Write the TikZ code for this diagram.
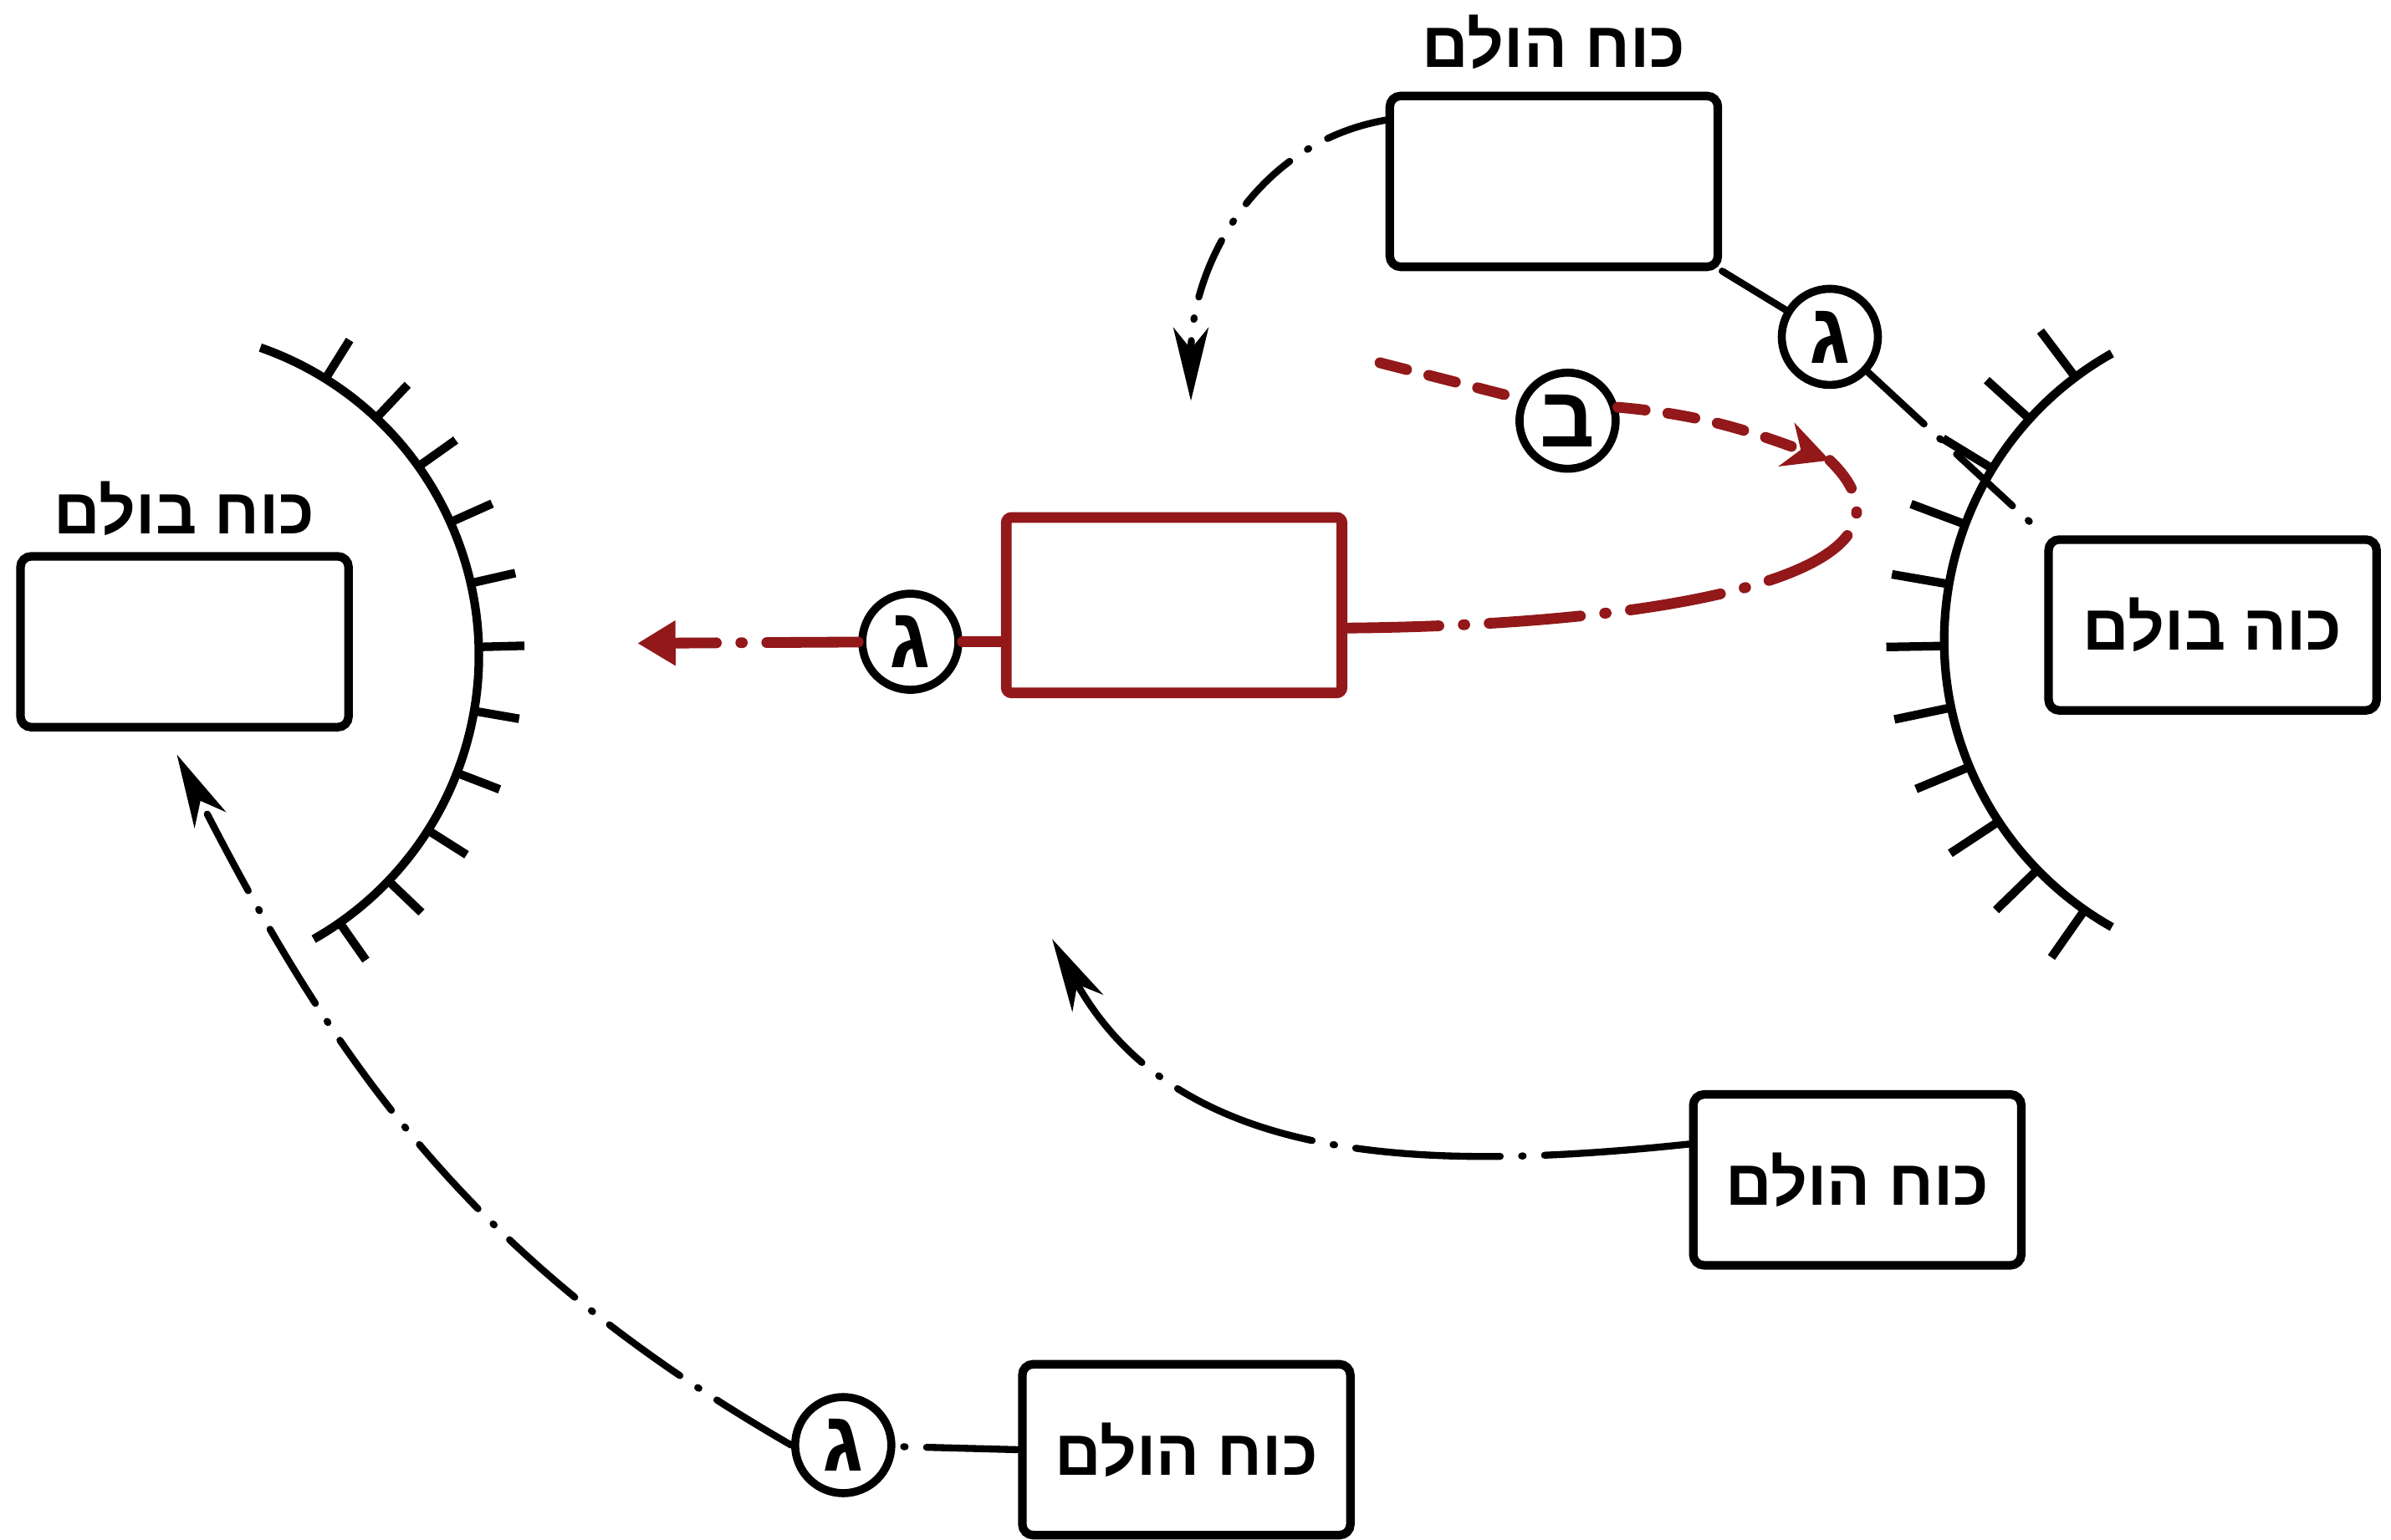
\documentclass[tikz,border=0pt]{standalone}
\usepackage{fontspec}
\usepackage{tikz}
\usetikzlibrary{arrows.meta, positioning}
\usepackage{xcolor}
\newfontfamily\hebfont[Script=Hebrew]{Liberation Sans}
\TeXXeTstate=1
\newcommand{\heb}[1]{\beginR #1\endR}
\definecolor{brakeRed}{RGB}{146,24,26}
\tikzset{
    font=\hebfont\bfseries,
    >=Stealth,
    % Colors
    inkBlack/.style={draw=black},
    inkRed/.style={draw=brakeRed},
    % Shapes
    forcebox/.style={rectangle, line width=1.6pt, rounded corners=2pt,
                     minimum width=2.15cm, minimum height=1.12cm, inner sep=0pt,
                     inkBlack, fill=white, font=\hebfont\bfseries\fontsize{12}{14}\selectfont},
    mass/.style={forcebox, line width=2pt, rounded corners=1pt,
                 minimum width=2.2cm, minimum height=1.15cm, inkRed},
    tag/.style={circle, line width=1.5pt, draw, fill=white, minimum size=0.63cm,
                inner sep=0pt, font=\hebfont\bfseries\fontsize{16}{18}\selectfont},
    lbl/.style={inner sep=0pt, font=\hebfont\bfseries\fontsize{12}{14}\selectfont},
    wall/.style={line width=1.6pt},
    % Flow
    flow/.style={line width=1.3pt, line cap=round,
                 dash pattern=on #1 off 0.14cm on 0.01cm off 0.14cm},
    flow/.default=0.6cm,
    flowRed/.style={line width=2pt, line cap=round, brakeRed,
                    dash pattern=on 0.6cm off 0.16cm on 0.01cm off 0.16cm},
    flowDash/.style={line width=2pt, line cap=round, brakeRed,
                     dash pattern=on 0.18cm off 0.15cm},
    hit/.style={-{Stealth[length=4.8mm, width=2.3mm, inset=1.4mm]}}
}

\begin{document}
\begin{tikzpicture}[x=0.01cm, y=0.01cm]

% Frame
\fill[white] (0,0) rectangle (1568,-1010);
\useasboundingbox (0,0) rectangle (1568,-1010);

% Walls
\draw[wall] (100,-430) ++(70.7:214) arc[start angle=70.7, end angle=-60.4, radius=214];
\foreach \a in {58,46.7,35.4,24.1,12.8,1.5,-9.8,-21.1,-32.4,-43.7,-55}
    \draw[wall] (100,-430) ++(\a:214) -- ++(\a:30);
\draw[wall] (1491,-420) ++(119.4:216) arc[start angle=119.4, end angle=240.6, radius=216];
\foreach \a in {127,137.8,148.6,159.4,170.2,181,191.8,202.6,213.4,224.2,235}
    \draw[wall] (1491,-420) ++(\a:216) -- ++(\a:38);

% Nodes
\node[forcebox] (brakeL) at (121,-421) {};
\node[lbl, above=0.1cm of brakeL] (brakeLlbl) {\heb{כוח בולם}};
\node[forcebox] (hitTop) at (1019,-119) {};
\node[lbl, above=0.14cm of hitTop] (hitToplbl) {\heb{כוח הולם}};
\node[forcebox] (brakeR) at (1451,-410) {\heb{כוה בולם}};
\node[forcebox] (hitRight) at (1218,-774) {\heb{כוח הולם}};
\node[forcebox] (hitBottom) at (778,-951) {\heb{כוח הולם}};
\node[mass] (body) at (770,-397) {};

\node[tag] (gLeft) at (597,-421) {\heb{ג}};
\node[tag] (gTop) at (1200,-221) {\heb{ג}};
\node[tag] (gBottom) at (553,-948) {\heb{ג}};
\node[tag] (bMid) at (1028,-276) {\heb{ב}};

\coordinate (topTip) at (781,-263);
\coordinate (rightTip) at (690,-616);
\coordinate (leftTip) at (116,-495);
\coordinate (redTip) at (418,-422);
\coordinate (bStart) at (905,-238);
\coordinate (bTip) at (1200,-302);

% Arrows
\draw[flow=0.4cm, hit] (hitTop.160) to[out=190, in=90] (topTip);
\draw[flow=0.5cm] (hitTop.south east) -- (gTop);
\draw[flow=0.5cm] (gTop) -- (brakeR.north west);
\draw[flow=0.95cm, hit] (hitRight.168) to[out=186, in=-61] (rightTip);
\draw[flow] (hitBottom.west) -- (gBottom);
\draw[flow=0.57cm, hit] (gBottom.west) to[out=150, in=-63] (leftTip);

\draw[flowRed] (body.west |- gLeft) -- (gLeft);
\draw[flowRed, -{Triangle[length=2.5mm, width=2.8mm]}] (gLeft) -- (redTip);
\draw[flowRed] ([yshift=-0.15cm]body.east) .. controls (1100,-410) and (1275,-375) .. (bTip);
\draw[flowDash] (bStart) -- (bMid.155);
\draw[flowDash, -{Stealth[length=3mm, width=3mm]}] (bMid.15) to[out=-5, in=160] (bTip);

\end{tikzpicture}
\end{document}
